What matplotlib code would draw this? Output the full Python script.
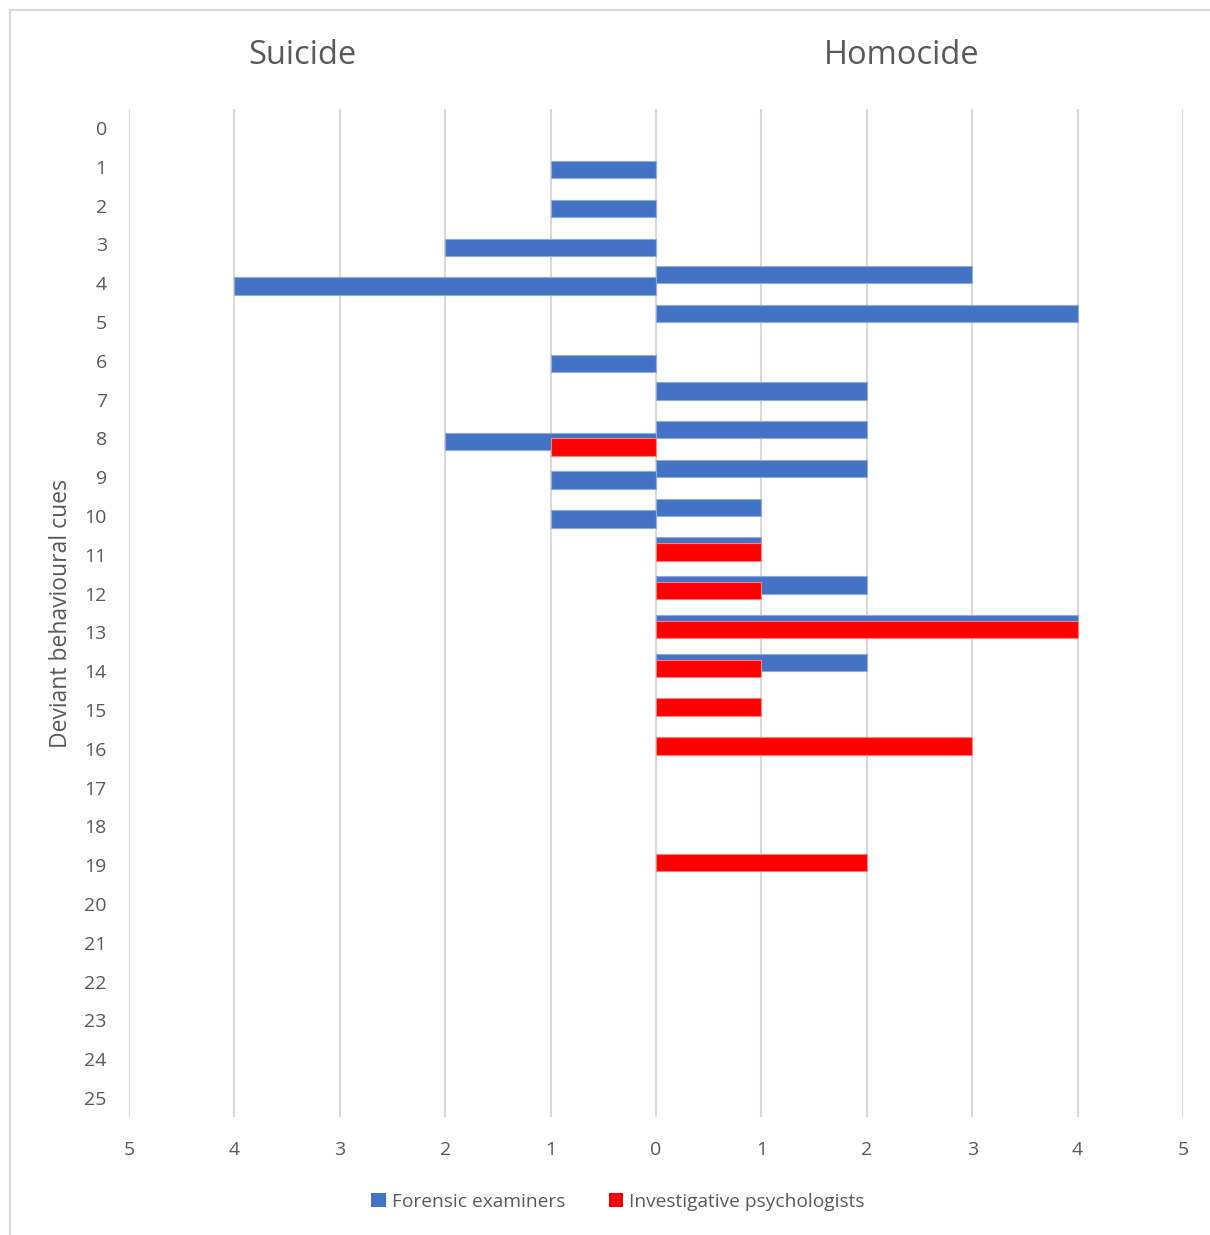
import numpy as np
import matplotlib
matplotlib.use('Agg')
import matplotlib.pyplot as plt
from matplotlib.patches import Patch
from matplotlib.lines import Line2D

plt.rcParams['font.family'] = ['Open Sans', 'DejaVu Sans']

# cue numbers 0..25
cues = list(range(26))

# counts (0 = no bar)
fe_suicide = [0, 1, 1, 2, 4, 0, 1, 0, 2, 1, 1, 0, 0, 0, 0, 0, 0, 0, 0, 0, 0, 0, 0, 0, 0, 0]
fe_homicide = [0, 0, 0, 0, 3, 4, 0, 2, 2, 2, 1, 1, 2, 4, 2, 0, 0, 0, 0, 0, 0, 0, 0, 0, 0, 0]
ip_suicide = [0, 0, 0, 0, 0, 0, 0, 0, 1, 0, 0, 0, 0, 0, 0, 0, 0, 0, 0, 0, 0, 0, 0, 0, 0, 0]
ip_homicide = [0, 0, 0, 0, 0, 0, 0, 0, 0, 0, 0, 1, 1, 4, 1, 1, 3, 0, 0, 2, 0, 0, 0, 0, 0, 0]

xticks = [-5, -4, -3, -2, -1, 0, 1, 2, 3, 4, 5]

blue = '#4472C4'
red = '#FF0000'
txt = '#595959'
grid = '#D9D9D9'

fig = plt.figure(figsize=(12.1, 12.35), dpi=100)
ax = fig.add_axes([129 / 1210, 1 - 1117.4 / 1235, (1183 - 129) / 1210, (1117.4 - 108.6) / 1235])

y = np.array(cues, dtype=float)
h = 0.45

def draw(vals, sign, off, color, edge):
    v = np.array(vals, dtype=float)
    m = v > 0
    ax.barh(y[m] + off, sign * v[m], height=h, color=color, edgecolor=edge, linewidth=0.8, zorder=3)

# homicide side (right), suicide side (left) - red drawn over blue
draw(fe_homicide, 1, -0.225, blue, '#8FAADC')
draw(ip_homicide, 1, -0.075, red, '#FF8080')
draw(fe_suicide, -1, 0.075, blue, '#8FAADC')
draw(ip_suicide, -1, 0.225, red, '#FF8080')

ax.set_xlim(-5, 5)
ax.set_ylim(25.5, -0.5)
ax.set_xticks(xticks)
ax.set_xticklabels([str(abs(t)) for t in xticks])
ax.set_yticks(cues)
ax.set_yticklabels([str(c) for c in cues])
ax.xaxis.grid(True, color=grid, linewidth=1.5, zorder=0)
ax.set_axisbelow(True)
for s in ax.spines.values():
    s.set_visible(False)
ax.tick_params(axis='x', length=0, pad=17, labelsize=14, labelcolor=txt)
ax.tick_params(axis='y', length=0, pad=16, labelsize=14, labelcolor=txt)

fig.text(302 / 1210, 1 - 56 / 1235, 'Suicide', ha='center', va='center', fontsize=23.5, color=txt)
fig.text(902 / 1210, 1 - 56 / 1235, 'Homocide', ha='center', va='center', fontsize=23.5, color=txt)
fig.text(61 / 1210, 1 - 613 / 1235, 'Deviant behavioural cues', rotation=90,
         ha='center', va='center', fontsize=16.5, color=txt)

handles = [Patch(facecolor=blue), Patch(facecolor=red)]
leg = fig.legend(handles, ['Forensic examiners', 'Investigative psychologists'],
                 loc='center', bbox_to_anchor=(618 / 1210, 1 - 1202 / 1235), ncol=2,
                 frameon=False, fontsize=13.8, handlelength=0.75, handleheight=0.75,
                 handletextpad=0.3, columnspacing=2.3)
for t in leg.get_texts():
    t.set_color(txt)

# outer chart border: only top and left edges show in the source image
bx = 9.5 / 1210
by = 1 - 10 / 1235
fig.add_artist(Line2D([bx, 1.0], [by, by], transform=fig.transFigure, color=grid, linewidth=1.5))
fig.add_artist(Line2D([bx, bx], [0.0, by], transform=fig.transFigure, color=grid, linewidth=1.5))

fig.savefig('out.png', dpi=100)
